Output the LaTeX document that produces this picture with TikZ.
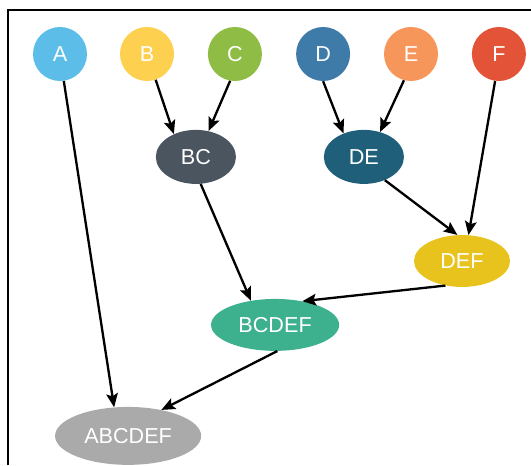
\documentclass[tikz,border=0pt]{standalone}
\usepackage{fontspec}
\setmainfont{Liberation Sans}
\usepackage{tikz}
\usetikzlibrary{arrows.meta,shapes.geometric}

\definecolor{colA}{HTML}{5BBDE8}
\definecolor{colB}{HTML}{FDD04F}
\definecolor{colC}{HTML}{8FBC45}
\definecolor{colD}{HTML}{3F7BA8}
\definecolor{colE}{HTML}{F6965A}
\definecolor{colF}{HTML}{E25337}
\definecolor{colBC}{HTML}{4A5560}
\definecolor{colDE}{HTML}{1F5F7A}
\definecolor{colDEF}{HTML}{E8C31E}
\definecolor{colBCDEF}{HTML}{3DB08E}
\definecolor{colAll}{HTML}{AAAAAA}

\begin{document}
\begin{tikzpicture}[
  font=\fontsize{20.5}{24}\selectfont,
  leaf/.style={circle, minimum size=1.8cm, inner sep=0pt, text=white},
  merged/.style={ellipse, minimum width=#1, minimum height=1.8cm, inner sep=0pt, text=white},
  mergeedge/.style={draw=black, line width=2.2pt, -{Stealth[length=13pt,width=11pt,inset=2.5pt]}}
]
\useasboundingbox (0,0) rectangle (17.70,15.50);
\draw[line width=2pt] (0.27,0) -- (0.27,15.17) -- (17.70,15.17);
% first row
\node[leaf, fill=colA] (A) at (2.00,13.70) {A};
\node[leaf, fill=colB] (B) at (4.90,13.70) {B};
\node[leaf, fill=colC] (C) at (7.83,13.70) {C};
\node[leaf, fill=colD] (D) at (10.77,13.70) {D};
\node[leaf, fill=colE] (E) at (13.70,13.70) {E};
\node[leaf, fill=colF] (F) at (16.63,13.70) {F};
% merged clusters
\node[merged=2.67cm, fill=colBC] (BC) at (6.53,10.27) {BC};
\node[merged=2.67cm, fill=colDE] (DE) at (12.13,10.27) {DE};
\node[merged=3.20cm, fill=colDEF, minimum height=1.73cm] (DEF) at (15.40,6.80) {DEF};
\node[merged=4.27cm, fill=colBCDEF, minimum height=1.73cm] (BCDEF) at (9.17,4.67) {BCDEF};
\node[merged=4.87cm, fill=colAll, minimum height=1.93cm] (ABCDEF) at (4.27,0.97) {ABCDEF};
% joins
\draw[mergeedge] (B) -- (BC.134);
\draw[mergeedge] (C.260) -- (BC.64);
\draw[mergeedge] (D.south) -- (DE.131);
\draw[mergeedge] (E.255) -- (DE.57);
\draw[mergeedge] (F.262) -- (DEF.76);
\draw[mergeedge] (DE.312) -- (DEF.100);
\draw[mergeedge] (BC.280) -- (BCDEF.135);
\draw[mergeedge] (DEF.236) -- (BCDEF.41);
\draw[mergeedge] (BCDEF.275) -- (ABCDEF.38);
\draw[mergeedge] (A.278) -- (ABCDEF.116);
\end{tikzpicture}
\end{document}
